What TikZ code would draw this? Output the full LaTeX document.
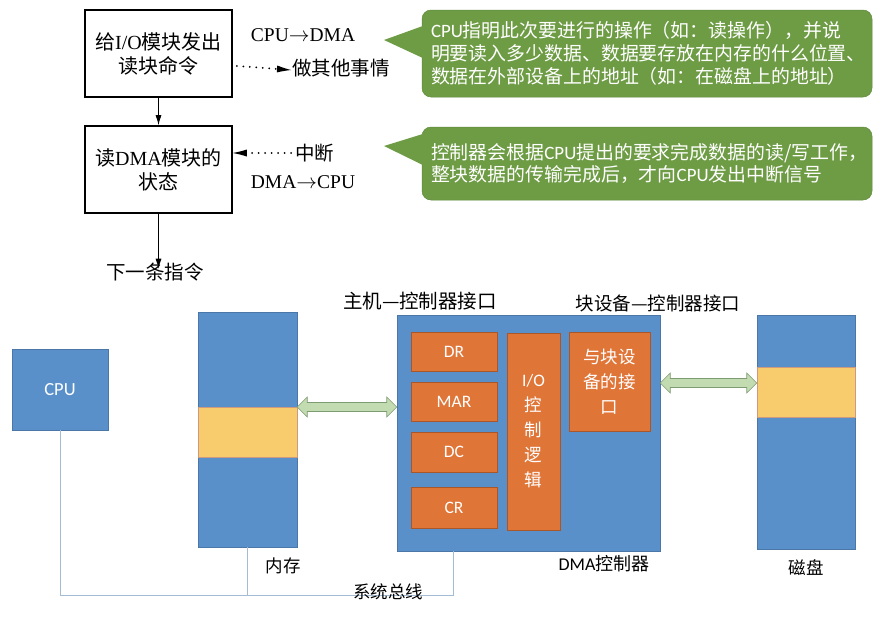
\documentclass[tikz,border=0pt]{standalone}
\usepackage{fontspec}
\setmainfont{Liberation Serif}
\newfontfamily\cjk{Noto Sans CJK SC}
\newfontfamily\calfont{Carlito}
\usetikzlibrary{arrows.meta,calc}
\definecolor{cgreen}{HTML}{6E9C45}
\definecolor{cgreenb}{HTML}{5F8A3C}
\definecolor{cblue}{HTML}{5A90C9}
\definecolor{cblueb}{HTML}{4A76A8}
\definecolor{corange}{HTML}{E07538}
\definecolor{corangeb}{HTML}{A9572A}
\definecolor{cyellow}{HTML}{F8CB6C}
\definecolor{agreen}{HTML}{C3DBB0}
\definecolor{agreenb}{HTML}{7E9C72}
\definecolor{cbus}{HTML}{A3BCD3}
\tikzset{
  flowbox/.style={draw=black, line width=1.6pt, minimum width=147pt, minimum height=87pt, align=center, font=\fontsize{20}{24}\selectfont, inner sep=0pt},
  plain/.style={font=\fontsize{19.5}{24}\selectfont, inner sep=1pt},
  flowarrow/.style={line width=0.9pt, -{Latex[length=10pt,width=6pt]}},
  dotarrow/.style={line width=2pt, line cap=round, dash pattern=on 0pt off 6.5pt, -{Latex[length=14pt,width=7pt,line width=0pt]}},
  callbox/.style={fill=cgreen, draw=cgreenb, line width=0.5pt, rounded corners=9pt, text=white, align=left, font=\cjk\fontsize{18.9}{22.8}\selectfont, inner xsep=9pt, inner ysep=0pt, text width=432pt, anchor=center},
  bluebox/.style={fill=cblue, draw=cblueb, line width=0.5pt, inner sep=0pt},
  orangebox/.style={fill=corange, draw=corangeb, line width=0.5pt, inner sep=0pt, text=white, font=\calfont\fontsize{17.5}{20}\selectfont, minimum width=86pt},
  yellowband/.style={fill=cyellow, draw=corangeb!60, line width=0.5pt, inner sep=0pt},
  garrow/.style={fill=agreen, draw=agreenb, line width=0.6pt},
  bus/.style={draw=cbus, line width=1pt},
  cjklabel/.style={font=\cjk\fontsize{17.5}{20}\selectfont, inner sep=0pt},
}
\begin{document}
\begin{tikzpicture}[x=1pt,y=-1pt]
\useasboundingbox (0,0) rectangle (877,616);

% ---------- flowchart ----------
\node[flowbox] (b1) at (158.5,53.5) {{\cjk 给}I/O{\cjk 模块发出}\\{\cjk 读块命令}};
\node[flowbox] (b2) at (158.5,169.5) {{\cjk 读}DMA{\cjk 模块的}\\{\cjk 状态}};
\node[plain, font=\cjk\fontsize{19.5}{24}\selectfont] (next) at (155,272) {下一条指令};
\draw[flowarrow] (b1.south) -- (b2.north);
\draw[flowarrow] (b2.south) -- ([yshift=-7pt]next.north -| b2.south);

\node[plain] (t1) at (303,35) {CPU$\rightarrow$DMA};
\node[plain, font=\cjk\fontsize{19.5}{24}\selectfont, anchor=west] (t2) at (291,68) {做其他事情};
\draw[dotarrow] ([xshift=4pt]b1.east |- 0,66) -- ([yshift=-2pt]t2.west);
\node[plain, font=\cjk\fontsize{19.5}{24}\selectfont, anchor=west] (t3) at (294,153) {中断};
\node[plain] (t4) at (303,182) {DMA$\rightarrow$CPU};
\draw[dotarrow] ([xshift=-3pt]t3.west) -- (b2.east |- t3.west);

% ---------- callouts ----------
\node[callbox, minimum width=450pt, minimum height=87pt] (c1) at (647,53.5)
  {{\calfont CPU}指明此次要进行的操作（如：读操作），并说\\明要读入多少数据、数据要存放在内存的什么位置、\\数据在外部设备上的地址（如：在磁盘上的地址）};
\fill[cgreen] (384,40) -- ([xshift=1pt]c1.north west |- 0,26) -- ([xshift=1pt]c1.north west |- 0,58) -- cycle;
\node[callbox, minimum width=450pt, minimum height=73pt] (c2) at (647,163.5)
  {控制器会根据{\calfont CPU}提出的要求完成数据的读/写工作，\\整块数据的传输完成后，才向{\calfont CPU}发出中断信号};
\fill[cgreen] (384,146) -- ([xshift=1pt]c2.north west |- 0,134) -- ([xshift=1pt]c2.north west |- 0,165) -- cycle;

% ---------- bottom ----------
\node[bluebox, minimum width=96pt, minimum height=81pt, text=white, font=\calfont\fontsize{18.5}{20}\selectfont] (cpu) at (60,389.5) {CPU};
\node[bluebox, minimum width=99pt, minimum height=235pt] (mem) at (247.5,429.5) {};
\node[yellowband, minimum width=99pt, minimum height=50pt] (mband) at (247.5,432) {};
\node[cjklabel] (memlbl) at (283,566) {内存};

\node[bluebox, minimum width=263pt, minimum height=236pt] (dma) at (528.5,433) {};
\node[orangebox, minimum height=39pt] (dr) at (454,351.5) {DR};
\node[orangebox, minimum height=39pt] (mar) at (454,401.5) {MAR};
\node[orangebox, minimum height=40pt] (dc) at (454,452) {DC};
\node[orangebox, minimum height=41pt] (cr) at (454,507.5) {CR};
\node[orangebox, minimum width=53pt, minimum height=197pt, align=center, font=\fontsize{17.5}{25}\selectfont] (io) at (533.5,431.5)
  {{\calfont I/O}\\{\cjk 控}\\{\cjk 制}\\{\cjk 逻}\\{\cjk 辑}};
\node[orangebox, minimum width=81pt, minimum height=99pt, align=center, font=\cjk\fontsize{17.5}{25}\selectfont] (blk) at (609.5,381.5)
  {与块设\\备的接\\口};
\node[font=\fontsize{18}{20}\selectfont, inner sep=0pt] (dmalbl) at (604,564) {{\calfont DMA}{\cjk 控制器}};
\node[font=\cjk\fontsize{19.5}{20}\selectfont, inner sep=0pt] (hostif) at (420,301) {主机—控制器接口};
\node[font=\cjk\fontsize{18.5}{20}\selectfont, inner sep=0pt] (blkif) at (658,303) {块设备—控制器接口};

\node[bluebox, minimum width=98pt, minimum height=234pt] (disk) at (806,432) {};
\node[yellowband, minimum width=98pt, minimum height=50pt] (dband) at (806,392) {};
\node[cjklabel] (disklbl) at (806,568) {磁盘};

% green double arrows
\coordinate (a1l) at (mem.east |- 0,407);
\coordinate (a1r) at (dma.west |- 0,407);
\coordinate (a2l) at (dma.east |- 0,383);
\coordinate (a2r) at (disk.west |- 0,383);
\foreach \l/\r in {a1l/a1r, a2l/a2r}{
  \draw[garrow] (\l) -- ($(\l)+(10,-10)$) -- ($(\l)+(10,-4.5)$) -- ($(\r)+(-10,-4.5)$) -- ($(\r)+(-10,-10)$)
     -- (\r) -- ($(\r)+(-10,10)$) -- ($(\r)+(-10,4.5)$) -- ($(\l)+(10,4.5)$) -- ($(\l)+(10,10)$) -- cycle;
}

% system bus
\coordinate (busL) at (cpu.south |- 0,595);
\coordinate (busR) at (453,595);
\draw[bus] (cpu.south) -- (busL) -- (busR) -- (busR |- dma.south);
\draw[bus] (mem.south) -- (mem.south |- busL);
\node[font=\cjk\fontsize{17.5}{20}\selectfont, inner sep=0pt] (buslbl) at (388,592) {系统总线};
\end{tikzpicture}
\end{document}
